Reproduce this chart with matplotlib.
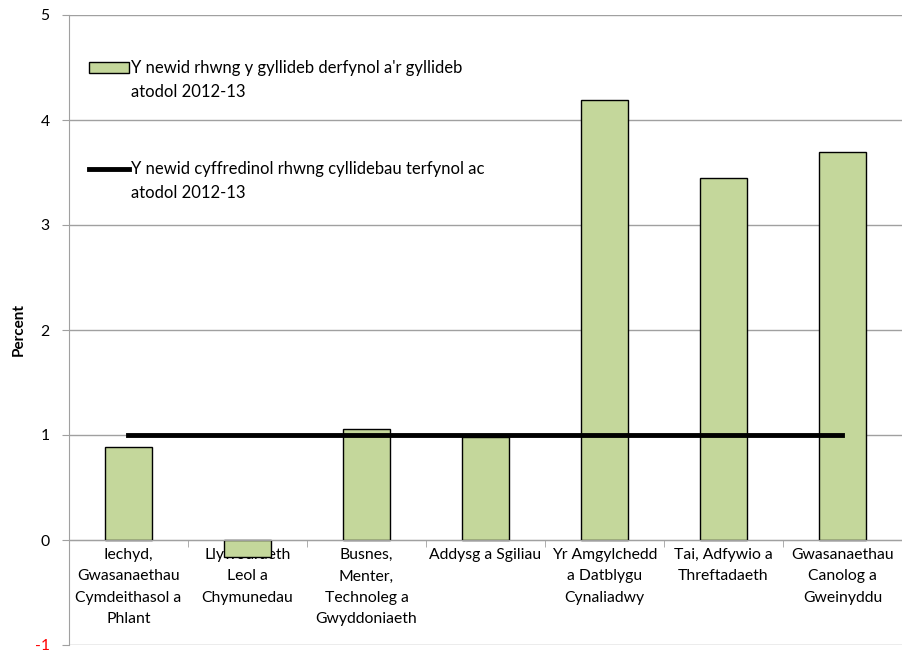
import matplotlib.pyplot as plt
import numpy as np

plt.rcParams['font.family'] = ['Lato', 'DejaVu Sans']
plt.rcParams['axes.unicode_minus'] = False

categories = ["Iechyd,\nGwasanaethau\nCymdeithasol a\nPhlant",
              "Llywodraeth\nLeol a\nChymunedau",
              "Busnes,\nMenter,\nTechnoleg a\nGwyddoniaeth",
              "Addysg a Sgiliau",
              "Yr Amgylchedd\na Datblygu\nCynaliadwy",
              "Tai, Adfywio a\nThreftadaeth",
              "Gwasanaethau\nCanolog a\nGweinyddu"]
change = [0.89, -0.16, 1.06, 0.98, 4.19, 3.45, 3.70]
average = [1.0] * len(categories)
# legend labels, split in two lines (second line drawn under the first)
bar_label = ["Y newid rhwng y gyllideb derfynol a'r gyllideb", "atodol 2012-13"]
line_label = ["Y newid cyffredinol rhwng cyllidebau terfynol ac", "atodol 2012-13"]

fig = plt.figure(figsize=(9.03, 6.53), dpi=100)
ax = fig.add_axes([69/903, 8/653, 833/903, 630/653])

x = np.arange(len(categories))
bars = ax.bar(x, change, width=0.4, color='#c4d79b', edgecolor='black', linewidth=1, zorder=2)
line, = ax.plot(x, average, color='black', linewidth=3.5, zorder=3)

ax.set_xlim(-0.5, len(categories) - 0.5)
ax.set_ylim(-1, 5)
ax.set_yticks(range(-1, 6))
ax.grid(axis='y', color='#a0a0a0', linewidth=1, zorder=0)
ax.set_axisbelow(True)

for s in ['top', 'right']:
    ax.spines[s].set_visible(False)
ax.spines['left'].set_color('#a0a0a0')
ax.spines['bottom'].set_color('#a0a0a0')
ax.spines['bottom'].set_position(('data', 0))

ax.set_xticks(x)
ax.set_xticklabels(categories, fontsize=11.3, linespacing=1.65)
ax.set_xticks(np.arange(-0.5, len(categories)), minor=True)
ax.tick_params(axis='x', which='major', length=0, pad=6)
ax.tick_params(axis='x', which='minor', length=5, direction='out', color='#a0a0a0')
ax.tick_params(axis='y', length=5, color='#a0a0a0', labelsize=11.3, pad=9)
ax.get_yticklabels()[0].set_color('red')

ax.set_ylabel('Percent', fontsize=11, fontweight='bold', labelpad=6)

leg = ax.legend([bars, line], [bar_label[0], line_label[0]], loc='upper left',
                bbox_to_anchor=(0.006, 0.952), frameon=False,
                fontsize=12, labelspacing=5.1, handlelength=2.4, handletextpad=0.1,
                handleheight=0.6)

# second lines of the legend labels go under the first
fig.canvas.draw()
W, H = fig.canvas.get_width_height()
for t, lab in zip(leg.get_texts(), [bar_label, line_label]):
    bb = t.get_window_extent()
    fig.text(bb.x0 / W, (bb.y0 - 24) / H, lab[1], ha='left', va='bottom', fontsize=12)

fig.savefig('out.png', dpi=100)
